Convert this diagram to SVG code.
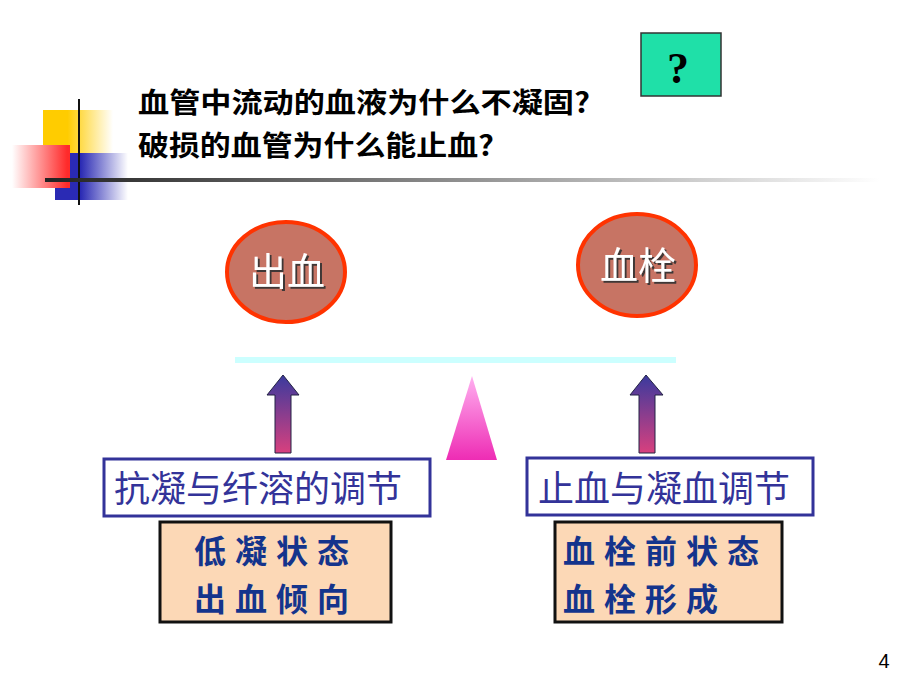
<svg xmlns="http://www.w3.org/2000/svg" width="920" height="690" viewBox="0 0 920 690">
<defs>
<linearGradient id="gY" x1="0" y1="0" x2="1" y2="0"><stop offset="0.35" stop-color="#ffcc00"/><stop offset="1" stop-color="#ffffff"/></linearGradient>
<linearGradient id="gR" x1="1" y1="0" x2="0" y2="0"><stop offset="0.05" stop-color="#ff2a2a"/><stop offset="1" stop-color="#ffffff"/></linearGradient>
<linearGradient id="gB" x1="0" y1="0" x2="1" y2="0"><stop offset="0.35" stop-color="#2a2ab4"/><stop offset="1" stop-color="#ffffff"/></linearGradient>
<linearGradient id="gL" x1="0" y1="0" x2="1" y2="0"><stop offset="0" stop-color="#222222"/><stop offset="1" stop-color="#ffffff"/></linearGradient>
<linearGradient id="gA" x1="0" y1="0" x2="0" y2="1"><stop offset="0" stop-color="#3a3a9e"/><stop offset="1" stop-color="#d8407e"/></linearGradient>
<linearGradient id="gT" x1="0" y1="0" x2="0" y2="1"><stop offset="0" stop-color="#ffb0f0"/><stop offset="1" stop-color="#ee2cb4"/></linearGradient>
<filter id="sh" x="-20%" y="-20%" width="140%" height="140%"><feDropShadow dx="2" dy="2" stdDeviation="0.6" flood-color="#333333" flood-opacity="0.9"/></filter>
<style>
.title{font-family:"Noto Sans CJK SC","Liberation Sans",sans-serif;font-weight:bold;font-size:28px;fill:#000}
.circ{fill:#c77464;stroke:#ff3300;stroke-width:4}
.ctext{font-family:"Noto Sans CJK SC",sans-serif;font-size:38px;fill:#ffffff;text-anchor:middle}
.arrow{fill:url(#gA);stroke:#222244;stroke-width:1}
.reg{fill:#ffffff;stroke:#333399;stroke-width:3}
.regt{font-family:"Noto Sans CJK SC",sans-serif;font-size:36px;fill:#333399}
.peach{fill:#fcd8b6;stroke:#111111;stroke-width:3}
.pt{font-family:"Noto Sans CJK SC",sans-serif;font-size:32px;font-weight:bold;fill:#14348c;letter-spacing:9px}
</style>
</defs>
<g id="decoration">
<rect x="43" y="110" width="70" height="43" fill="url(#gY)"/>
<rect x="55" y="153" width="73" height="47" fill="url(#gB)"/>
<rect x="12" y="145" width="58" height="43" fill="url(#gR)"/>
<line x1="79" y1="99" x2="79" y2="205" stroke="#111" stroke-width="2"/>
<rect x="45" y="178" width="835" height="4" fill="url(#gL)"/>
</g>
<g id="question">
<rect x="641" y="33" width="80" height="63" fill="#1fe0a8" stroke="#333" stroke-width="1.5"/>
<text x="678" y="83" font-family="Liberation Serif,serif" font-weight="bold" font-size="44" text-anchor="middle" fill="#000">?</text>
</g>
<g id="title">
<text class="title" x="138" y="113" textLength="452" lengthAdjust="spacingAndGlyphs">血管中流动的血液为什么不凝固?</text>
<text class="title" x="138" y="156" textLength="356" lengthAdjust="spacingAndGlyphs">破损的血管为什么能止血?</text>
</g>
<g id="node-bleeding">
<ellipse class="circ" cx="286" cy="272" rx="59" ry="50"/>
<text class="ctext" x="287" y="285" filter="url(#sh)">出血</text>
</g>
<g id="node-thrombus">
<ellipse class="circ" cx="637" cy="265" rx="59" ry="51"/>
<text class="ctext" x="638" y="279" filter="url(#sh)">血栓</text>
</g>
<g id="balance">
<rect x="235" y="357" width="441" height="6" fill="#ccffff"/>
<polygon points="472,376 446,460 497,460" fill="url(#gT)"/>
</g>
<g id="connectors">
<polygon class="arrow" points="283,375 299,395 291,395 291,453 275,453 275,395 267,395"/>
<polygon class="arrow" points="646,375 663,395 655,395 655,453 639,453 639,395 630,395"/>
</g>
<g id="node-anticoag">
<rect class="reg" x="104" y="459" width="326" height="57"/>
<text class="regt" x="114" y="502">抗凝与纤溶的调节</text>
</g>
<g id="node-hemostasis">
<rect class="reg" x="527" y="458" width="286" height="57"/>
<text class="regt" x="538" y="502">止血与凝血调节</text>
</g>
<g id="node-low">
<rect class="peach" x="160" y="522" width="231" height="100"/>
<text class="pt" x="194" y="563">低凝状态</text>
<text class="pt" x="194" y="611">出血倾向</text>
</g>
<g id="node-pre">
<rect class="peach" x="555" y="522" width="227" height="100"/>
<text class="pt" x="563" y="563">血栓前状态</text>
<text class="pt" x="563" y="611">血栓形成</text>
</g>
<text x="884" y="668" font-family="Liberation Sans,sans-serif" font-size="20" text-anchor="middle" fill="#000">4</text>
</svg>
